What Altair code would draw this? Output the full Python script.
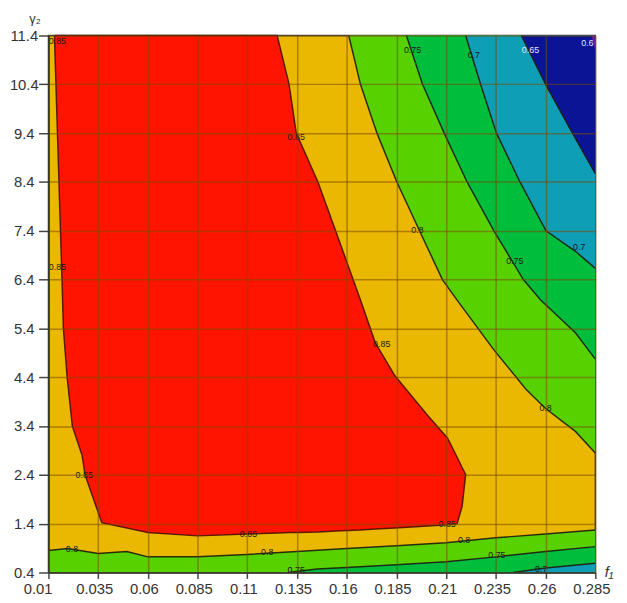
import altair as alt
import pandas as pd

# ---------------- data ----------------
X_TICKS = [0.01, 0.035, 0.06, 0.085, 0.11, 0.135, 0.16, 0.185, 0.21, 0.235, 0.26, 0.285]
Y_TICKS = [0.4, 1.4, 2.4, 3.4, 4.4, 5.4, 6.4, 7.4, 8.4, 9.4, 10.4, 11.4]

# 0.85 contour (closed red region): lower / upper boundary at each x
RED_X = [0.013, 0.0168, 0.0175, 0.0194, 0.022, 0.0269, 0.0284, 0.0368, 0.06, 0.085, 0.11,
         0.125, 0.131, 0.1346, 0.1455, 0.1544, 0.1669, 0.1743, 0.1842, 0.2006, 0.2107,
         0.2155, 0.2180, 0.2198]
RED_LO = [11.4, 6.4, 5.4, 4.4, 3.4, 2.8, 2.4, 1.42, 1.22, 1.15, 1.19,
          1.21, 1.22, 1.22, 1.23, 1.25, 1.27, 1.29, 1.31, 1.35, 1.38,
          1.40, 1.75, 2.41]
RED_HI = [11.4, 11.4, 11.4, 11.4, 11.4, 11.4, 11.4, 11.4, 11.4, 11.4, 11.4,
          11.4, 10.4, 9.4, 8.4, 7.4, 5.98, 5.11, 4.43, 3.62, 3.15,
          2.76, 2.55, 2.41]

# contours running from the top edge to the right edge
C80T_X = [0.161, 0.1669, 0.1752, 0.1852, 0.1966, 0.2081, 0.2155, 0.2338, 0.250, 0.26, 0.275, 0.285]
C80T_Y = [11.4, 10.4, 9.4, 8.4, 7.4, 6.4, 5.98, 4.97, 4.16, 3.76, 3.29, 2.85]
C75T_X = [0.190, 0.1981, 0.209, 0.2205, 0.234, 0.2488, 0.2575, 0.275, 0.285]
C75T_Y = [11.4, 10.4, 9.4, 8.4, 7.4, 6.4, 5.98, 5.31, 4.77]
C70T_X = [0.2198, 0.2273, 0.2353, 0.2471, 0.2602, 0.275, 0.285]
C70T_Y = [11.4, 10.4, 9.4, 8.4, 7.4, 6.98, 6.63]
C65T_X = [0.2478, 0.260, 0.2735, 0.285]
C65T_Y = [11.4, 10.4, 9.4, 8.57]
C60T_X = [0.2832, 0.285]
C60T_Y = [11.4, 11.08]

# contours running along the bottom
C80B_X = [0.01, 0.0196, 0.035, 0.0494, 0.06, 0.085, 0.11, 0.135, 0.16, 0.185, 0.21, 0.235, 0.26, 0.285]
C80B_Y = [0.85, 0.89, 0.79, 0.83, 0.72, 0.72, 0.77, 0.83, 0.89, 0.95, 1.01, 1.11, 1.19, 1.27]
C75B_X = [0.1305, 0.145, 0.16, 0.185, 0.21, 0.235, 0.26, 0.285]
C75B_Y = [0.4, 0.47, 0.50, 0.56, 0.62, 0.72, 0.83, 0.93]
C70B_X = [0.2437, 0.26, 0.285]
C70B_Y = [0.4, 0.49, 0.59]

# contour labels
LAB_TEXT = ["0.85", "0.85", "0.85", "0.85", "0.85", "0.85", "0.85",
            "0.8", "0.8", "0.8", "0.8", "0.8",
            "0.75", "0.75", "0.75", "0.75",
            "0.7", "0.7", "0.7",
            "0.65", "0.6"]
LAB_X = [0.0145, 0.1346, 0.0145, 0.028, 0.1106, 0.2105, 0.1776,
         0.1956, 0.26, 0.0218, 0.120, 0.219,
         0.1931, 0.2445, 0.2355, 0.1346,
         0.2239, 0.2769, 0.2578,
         0.2524, 0.2810]
LAB_Y = [11.28, 9.32, 6.65, 2.40, 1.18, 1.40, 5.07,
         7.42, 3.76, 0.89, 0.81, 1.06,
         11.10, 6.79, 0.75, 0.44,
         11.0, 7.06, 0.48,
         11.10, 11.24]
LIGHT_LABELS = ["0.65", "0.6"]

# ---------------- styling ----------------
C_RED = "#FE1400"
C_ORANGE = "#EAB800"
C_LGREEN = "#57D200"
C_GREEN = "#00BE3C"
C_TEAL = "#0E9EB6"
C_BLUE = "#0A1494"
C_PURPLE = "#6A1AA6"
LINE_COLOR = "#1c1c10"
FONT = "Liberation Sans"

xscale = alt.Scale(domain=[0.01, 0.285], nice=False, zero=False)
yscale = alt.Scale(domain=[0.4, 11.4], nice=False, zero=False)

xaxis = alt.Axis(
    values=X_TICKS, format=".3~f", title="f\u2081", titleFontStyle="italic",
    titleFont=FONT, titleFontSize=15, titleFontWeight="normal", titleColor="#333",
    titleX=563, titleY=-1, titleAlign="left", titleBaseline="middle", titleAngle=0,
    labelFont=FONT, labelFontSize=15, labelColor="#333", labelPadding=3,
    labelOffset={"condition": {"test": "datum.value === 0.01", "value": -11}, "value": -4},
    tickSize=6, tickColor="#444", tickWidth=1.5, domainColor="#333", domainWidth=1.5,
    grid=True, gridColor="#7a4a00", gridOpacity=0.55, gridWidth=1.5, zindex=1,
    labelFlush=False, labelOverlap=False,
)
yaxis = alt.Axis(
    values=Y_TICKS, format=".1f", title="\u03b3\u2082", titleFont=FONT, titleFontSize=13,
    titleFontWeight="normal", titleColor="#333", titleAngle=0,
    titleX=-20, titleY=-13, titleAlign="left", titleBaseline="alphabetic",
    labelFont=FONT, labelFontSize=15, labelColor="#333", labelAlign="center", labelPadding=15,
    tickSize=10, tickColor="#444", tickWidth=1.5, domainColor="#333", domainWidth=1.5,
    grid=True, gridColor="#7a4a00", gridOpacity=0.55, gridWidth=1.5, zindex=1,
    labelFlush=False, labelOverlap=False,
)


def X(field="x"):
    return alt.X(f"{field}:Q", scale=xscale, axis=xaxis)


def Y(field="y"):
    return alt.Y(f"{field}:Q", scale=yscale, axis=yaxis)


def top_band(xs, ys, color):
    df = pd.DataFrame({"x": xs, "y": ys})
    return alt.Chart(df).mark_area(color=color, opacity=1).encode(
        x=X(), y=Y(), y2=alt.datum(11.4))


def bottom_band(xs, ys, color):
    df = pd.DataFrame({"x": xs, "y": ys})
    return alt.Chart(df).mark_area(color=color, opacity=1).encode(
        x=X(), y=Y(), y2=alt.datum(0.4))


# contour lines (open)
line_rows = []
for name, xs, ys in [("c80t", C80T_X, C80T_Y), ("c75t", C75T_X, C75T_Y),
                     ("c70t", C70T_X, C70T_Y), ("c65t", C65T_X, C65T_Y),
                     ("c80b", C80B_X, C80B_Y), ("c75b", C75B_X, C75B_Y),
                     ("c70b", C70B_X, C70B_Y)]:
    for i, (a, b) in enumerate(zip(xs, ys)):
        line_rows.append({"line": name, "x": a, "y": b, "o": i})
lines_df = pd.DataFrame(line_rows)

# red outline: along upper boundary then back along lower boundary
outline_rows = []
k = 0
for a, b in zip(RED_X, RED_HI):
    outline_rows.append({"x": a, "y": b, "o": k}); k += 1
for a, b in zip(reversed(RED_X), reversed(RED_LO)):
    outline_rows.append({"x": a, "y": b, "o": k}); k += 1
outline_df = pd.DataFrame(outline_rows)

red_df = pd.DataFrame({"x": RED_X, "lo": RED_LO, "hi": RED_HI})
lab_df = pd.DataFrame({"t": LAB_TEXT, "x": LAB_X, "y": LAB_Y})

layers = [
    bottom_band(C80B_X, C80B_Y, C_LGREEN),
    bottom_band(C75B_X, C75B_Y, C_GREEN),
    bottom_band(C70B_X, C70B_Y, C_TEAL),
    top_band(C80T_X, C80T_Y, C_LGREEN),
    top_band(C75T_X, C75T_Y, C_GREEN),
    top_band(C70T_X, C70T_Y, C_TEAL),
    top_band(C65T_X, C65T_Y, C_BLUE),
    top_band(C60T_X, C60T_Y, C_PURPLE),
    alt.Chart(red_df).mark_area(color=C_RED, opacity=1).encode(
        x=X(), y=Y("lo"), y2=alt.Y2("hi:Q")),
    alt.Chart(lines_df).mark_line(color=LINE_COLOR, strokeWidth=1.5, opacity=0.9).encode(
        x=X(), y=Y(), detail="line:N", order="o:Q"),
    alt.Chart(outline_df).mark_line(color="#4a1000", strokeWidth=1.5, opacity=0.9).encode(
        x=X(), y=Y(), order="o:Q"),
    alt.Chart(lab_df).mark_text(font=FONT, fontSize=9, align="center", baseline="middle").encode(
        x=X(), y=Y(), text="t:N",
        color=alt.condition(alt.FieldOneOfPredicate(field="t", oneOf=LIGHT_LABELS),
                            alt.value("#e8e4ff"), alt.value("#1a1a1a"))),
]

chart = alt.layer(*layers).properties(
    width=554, height=544,
    padding={"left": 41, "top": 24, "right": 24, "bottom": 24},
    autosize=alt.AutoSizeParams(type="none"),
    background="white",
).configure_view(
    fill=C_ORANGE, stroke="#444", strokeWidth=1.5
)

chart.save("out.html", embed_options={"renderer": "svg", "actions": False})
